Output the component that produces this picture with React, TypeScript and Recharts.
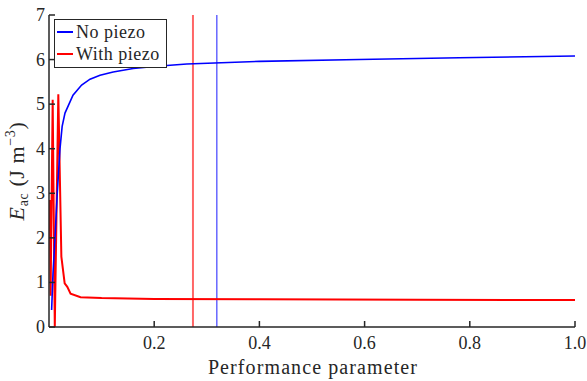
import { LineChart, Line, XAxis, YAxis, ReferenceLine } from "recharts";

// Performance parameter sweep, E_ac in J m^-3
const noPiezoX = [0.005, 0.0076, 0.0114, 0.0157, 0.0209, 0.025, 0.0304, 0.038, 0.0456, 0.062, 0.078, 0.097, 0.122, 0.16, 0.205, 0.262, 0.4, 0.59, 0.78, 1.0];
const noPiezoY = [0.38, 1.2, 2.0, 3.0, 4.0, 4.5, 4.8, 5.0, 5.2, 5.43, 5.56, 5.65, 5.72, 5.8, 5.85, 5.9, 5.96, 6.0, 6.04, 6.08];

const withPiezoX = [0.0015, 0.003, 0.007, 0.011, 0.0177, 0.0235, 0.0298, 0.0348, 0.041, 0.06, 0.1, 0.2, 0.4, 0.7, 1.0];
const withPiezoY = [2.85, 0.7, 5.1, 0, 5.22, 1.58, 0.98, 0.9, 0.75, 0.67, 0.65, 0.63, 0.62, 0.61, 0.605];

const optimumNoPiezo = 0.319;
const optimumWithPiezo = 0.2737;

const xTicks = [0.2, 0.4, 0.6, 0.8, 1.0];
const yTicks = [0, 1, 2, 3, 4, 5, 6, 7];

const FONT = "'Liberation Serif', 'Times New Roman', serif";
const AXIS = "#262626";

const toRows = (xs: number[], ys: number[]) => xs.map((x, i) => ({ x, y: ys[i] }));

const labelStyle = { fontFamily: FONT, fontSize: 18, lineHeight: "18px", color: AXIS, whiteSpace: "nowrap" as const };

// tick labels go through foreignObject so the serif font is honoured
function XTick(props: any) {
  const { x, y, payload } = props;
  return (
    <foreignObject x={x - 25} y={y - 4} width={50} height={22}>
      <div style={{ ...labelStyle, textAlign: "center" }}>{Number(payload.value).toFixed(1)}</div>
    </foreignObject>
  );
}

function YTick(props: any) {
  const { x, y, payload } = props;
  return (
    <foreignObject x={x - 39} y={y - 9} width={40} height={22}>
      <div style={{ ...labelStyle, textAlign: "right" }}>{payload.value}</div>
    </foreignObject>
  );
}

const NoTick = () => <g />;

export default function App() {
  const blue = toRows(noPiezoX, noPiezoY);
  const red = toRows(withPiezoX, withPiezoY);

  return (
    <div style={{ position: "absolute", left: 0, top: 0, width: 587, height: 381, background: "#fff", fontFamily: FONT, color: AXIS }}>
      <LineChart width={587} height={381} margin={{ top: 15, right: 12, bottom: 0, left: 0 }}>
        <XAxis
          xAxisId="b"
          dataKey="x"
          type="number"
          domain={[0, 1]}
          ticks={xTicks}
          allowDataOverflow
          height={54}
          tickSize={-6}
          tickMargin={17}
          stroke={AXIS}
          strokeWidth={1.5}
          tick={XTick}
        />
        <XAxis
          xAxisId="t"
          orientation="top"
          dataKey="x"
          type="number"
          domain={[0, 1]}
          ticks={xTicks}
          height={0}
          tickSize={-6}
          tick={NoTick}
          stroke={AXIS}
          strokeWidth={1.5}
        />
        <YAxis
          yAxisId="l"
          type="number"
          domain={[0, 7]}
          ticks={yTicks}
          width={49}
          tickSize={-6}
          tickMargin={11}
          stroke={AXIS}
          strokeWidth={1.5}
          tick={YTick}
        />
        <YAxis
          yAxisId="r"
          orientation="right"
          type="number"
          domain={[0, 7]}
          ticks={yTicks}
          width={0}
          tickSize={-6}
          tick={NoTick}
          stroke={AXIS}
          strokeWidth={1.5}
        />
        <ReferenceLine xAxisId="b" yAxisId="l" x={optimumWithPiezo} stroke="#ff0000" strokeOpacity={0.6} strokeWidth={2} />
        <ReferenceLine xAxisId="b" yAxisId="l" x={optimumNoPiezo} stroke="#0000ff" strokeOpacity={0.6} strokeWidth={1.5} />
        <Line xAxisId="b" yAxisId="l" data={red} dataKey="y" type="linear" stroke="#ff0000" strokeWidth={2} dot={false} isAnimationActive={false} />
        <Line xAxisId="b" yAxisId="l" data={blue} dataKey="y" type="linear" stroke="#0000ff" strokeWidth={1.6} dot={false} isAnimationActive={false} />
      </LineChart>

      {/* x axis title */}
      <div
        style={{
          position: "absolute",
          left: 0,
          width: 626,
          top: 357,
          textAlign: "center",
          fontSize: 20,
          lineHeight: "20px",
          letterSpacing: 1.1,
          whiteSpace: "nowrap",
        }}
      >
        Performance parameter
      </div>

      {/* y axis title, rotated */}
      <div
        style={{
          position: "absolute",
          left: 17 - 90,
          top: 171 - 13,
          width: 180,
          height: 26,
          lineHeight: "26px",
          textAlign: "center",
          fontSize: 22,
          letterSpacing: 0.6,
          whiteSpace: "nowrap",
          transform: "rotate(-90deg)",
        }}
      >
        <i>E</i>
        <span style={{ fontSize: 14, position: "relative", top: 4 }}>ac</span>
        <span> (J m</span>
        <span style={{ fontSize: 14, position: "relative", top: -9 }}>−3</span>
        <span>)</span>
      </div>

      {/* legend */}
      <div
        style={{
          position: "absolute",
          left: 54,
          top: 19,
          width: 111,
          height: 47,
          border: `1px solid ${AXIS}`,
          background: "#fff",
          fontSize: 18,
          letterSpacing: 0.5,
        }}
      >
        <LegendRow color="#0000ff" label="No piezo" top={1} />
        <LegendRow color="#ff0000" label="With piezo" top={23} />
      </div>
    </div>
  );
}

function LegendRow({ color, label, top }: { color: string; label: string; top: number }) {
  return (
    <div style={{ position: "absolute", left: 2, top, height: 22, display: "flex", alignItems: "center", whiteSpace: "nowrap" }}>
      <span style={{ display: "inline-block", width: 16, height: 2, background: color, marginRight: 3 }} />
      <span style={{ lineHeight: "22px" }}>{label}</span>
    </div>
  );
}
